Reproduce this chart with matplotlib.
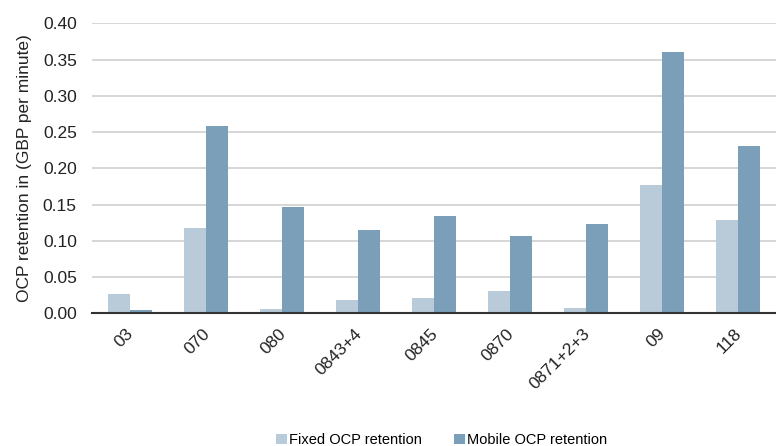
import matplotlib
matplotlib.use('Agg')
import matplotlib.pyplot as plt
import matplotlib.transforms as mtransforms
import numpy as np

# Data
categories = ["03", "070", "080", "0843+4", "0845", "0870", "0871+2+3", "09", "118"]
fixed_retention = [0.026, 0.117, 0.006, 0.019, 0.021, 0.031, 0.008, 0.177, 0.129]
mobile_retention = [0.004, 0.259, 0.147, 0.115, 0.134, 0.107, 0.123, 0.361, 0.231]
y_ticks = [0.00, 0.05, 0.10, 0.15, 0.20, 0.25, 0.30, 0.35, 0.40]

plt.rcParams['font.family'] = ['Liberation Sans', 'DejaVu Sans']

fig = plt.figure(figsize=(7.76, 4.46), dpi=100, facecolor='white')
ax = fig.add_axes([0.1186, 0.2975, 0.8814, 0.6502])

x = np.arange(len(categories))
w = 0.29
ax.bar(x - w / 2, fixed_retention, width=w, color='#b9cad8', label='Fixed OCP retention', zorder=3)
ax.bar(x + w / 2, mobile_retention, width=w, color='#7b9fb8', label='Mobile OCP retention', zorder=3)

ax.set_xlim(-0.5, len(categories) - 0.5)
ax.set_ylim(0, 0.40)
ax.set_yticks(y_ticks)
ax.set_yticklabels([f"{v:.2f}" for v in y_ticks], fontsize=12.5, color='#222222')
ax.set_xticks(x)
ax.set_xticklabels(categories, rotation=45, ha='right', rotation_mode='anchor',
                   fontsize=12.5, color='#222222')
ax.tick_params(axis='y', length=0, pad=11)
ax.tick_params(axis='x', length=0, pad=9)

# nudge the rotated labels a little to the left
shift = mtransforms.ScaledTranslation(-3 / 72, 0, fig.dpi_scale_trans)
for lbl in ax.get_xticklabels():
    lbl.set_transform(lbl.get_transform() + shift)

ax.grid(axis='y', color='#d0d0d0', linewidth=1.2, zorder=0)
for s in ['top', 'right', 'left']:
    ax.spines[s].set_visible(False)
ax.spines['bottom'].set_color('#333333')
ax.spines['bottom'].set_linewidth(1.5)
ax.spines['bottom'].set_zorder(4)

ax.set_ylabel("OCP retention in (GBP per minute)", fontsize=12.5, color='#222222', labelpad=8)

fig.legend(loc='center', bbox_to_anchor=(0.569, 0.013), ncol=2, frameon=False,
           fontsize=10.5, handlelength=0.75, handleheight=0.75, handletextpad=0.15,
           columnspacing=2.2)

fig.savefig("out.png", dpi=100)
